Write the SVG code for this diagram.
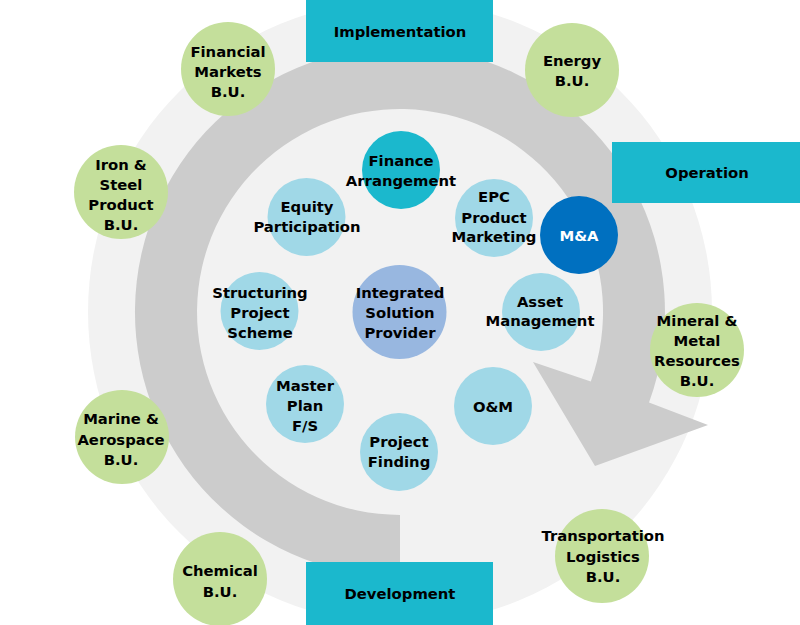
<svg xmlns="http://www.w3.org/2000/svg" width="800" height="625" viewBox="0 0 800 625">
<style>
text{font-family:"DejaVu Sans","Verdana",sans-serif;font-weight:bold;font-size:14.8px;fill:#000;text-anchor:middle}
.box{fill:#1bb8cd}
.bu{fill:#c4df9b}
.svc{fill:#a0d8e7}
.fin{fill:#1bb8cd}
.ma{fill:#0070c0}
.isp{fill:#98b7e0}
.w{fill:#fff}
</style>
<rect width="800" height="625" fill="#fff"/>
<circle cx="400" cy="312" r="312" fill="#f2f2f2"/>
<g id="connectors">
<path d="M400 515 A203 203 0 1 1 590.8 381.4 L533 362 L595 466 L708 425 L649 402.6 A265 265 0 1 0 400 577 Z" fill="#cccccc"/>
</g>
<g id="implementation"><rect class="box" x="306" y="0" width="187" height="62"/><text x="400" y="37">Implementation</text></g>
<g id="operation"><rect class="box" x="612" y="142" width="188" height="61"/><text x="707" y="178">Operation</text></g>
<g id="development"><rect class="box" x="306" y="562" width="187" height="63"/><text x="400" y="599">Development</text></g>

<g id="financial-markets"><circle class="bu" cx="228" cy="69" r="47"/><text x="228" y="57">Financial</text><text x="228" y="77">Markets</text><text x="228" y="97">B.U.</text></g>
<g id="energy"><circle class="bu" cx="572" cy="70" r="47"/><text x="572" y="66">Energy</text><text x="572" y="86">B.U.</text></g>
<g id="iron-steel"><circle class="bu" cx="121" cy="192" r="47"/><text x="121" y="170">Iron &amp;</text><text x="121" y="190">Steel</text><text x="121" y="210">Product</text><text x="121" y="230">B.U.</text></g>
<g id="mineral-metal"><circle class="bu" cx="697" cy="350" r="47"/><text x="697" y="326">Mineral &amp;</text><text x="697" y="346">Metal</text><text x="697" y="366">Resources</text><text x="697" y="386">B.U.</text></g>
<g id="marine-aerospace"><circle class="bu" cx="122" cy="437" r="47"/><text x="121" y="424">Marine &amp;</text><text x="121" y="445">Aerospace</text><text x="121" y="465">B.U.</text></g>
<g id="chemical"><circle class="bu" cx="220" cy="579" r="47"/><text x="220" y="576">Chemical</text><text x="220" y="597">B.U.</text></g>
<g id="transportation"><circle class="bu" cx="602" cy="556" r="47"/><text x="603" y="541">Transportation</text><text x="603" y="562">Logistics</text><text x="603" y="582">B.U.</text></g>

<g id="finance-arrangement"><circle class="fin" cx="401" cy="170" r="39"/><text x="401" y="166">Finance</text><text x="401" y="186">Arrangement</text></g>
<g id="equity-participation"><circle class="svc" cx="306.5" cy="217" r="39"/><text x="307" y="212">Equity</text><text x="307" y="232">Participation</text></g>
<g id="epc-product-marketing"><circle class="svc" cx="494" cy="218" r="39"/><text x="494" y="202">EPC</text><text x="494" y="223">Product</text><text x="494" y="242">Marketing</text></g>
<g id="m-and-a"><circle class="ma" cx="579" cy="235" r="39"/><text class="w" x="579" y="241">M&amp;A</text></g>
<g id="structuring"><circle class="svc" cx="259.5" cy="311" r="39"/><text x="260" y="298">Structuring</text><text x="260" y="318">Project</text><text x="260" y="338">Scheme</text></g>
<g id="integrated-solution-provider"><circle class="isp" cx="399.5" cy="312" r="47"/><text x="400" y="298">Integrated</text><text x="400" y="318">Solution</text><text x="400" y="338">Provider</text></g>
<g id="asset-management"><circle class="svc" cx="541" cy="312" r="39"/><text x="540" y="307">Asset</text><text x="540" y="326">Management</text></g>
<g id="master-plan"><circle class="svc" cx="305" cy="404" r="39"/><text x="305" y="391">Master</text><text x="305" y="411">Plan</text><text x="305" y="431">F/S</text></g>
<g id="om"><circle class="svc" cx="493" cy="406" r="39"/><text x="493" y="412">O&amp;M</text></g>
<g id="project-finding"><circle class="svc" cx="399" cy="452" r="39"/><text x="399" y="447">Project</text><text x="399" y="467">Finding</text></g>
</svg>
